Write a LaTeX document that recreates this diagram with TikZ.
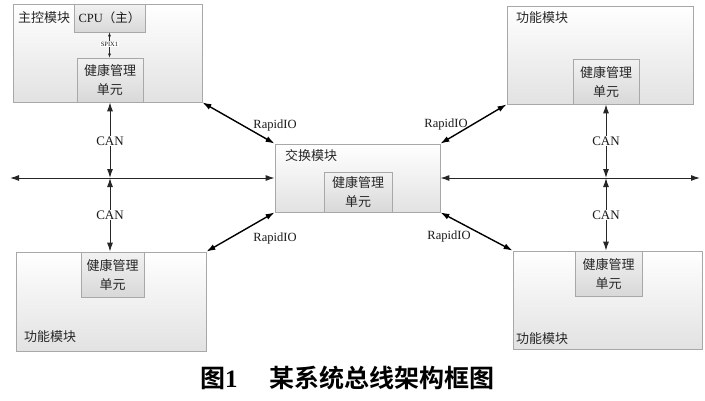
\documentclass[tikz,border=0pt]{standalone}
\usepackage{fontspec}
\setmainfont{Liberation Serif}
\newfontfamily\cjk{Noto Sans CJK SC}
\newfontfamily\cjkb{Noto Sans CJK SC}[BoldFont={* Bold}]
\usetikzlibrary{arrows.meta,shadows}
\definecolor{bordergray}{HTML}{A8A8A8}
\definecolor{modbot}{HTML}{E2E2E2}
\definecolor{hmtop}{HTML}{F2F2F2}
\definecolor{hmbot}{HTML}{D8D8D8}
\tikzset{
  module/.style={draw=bordergray, line width=0.8pt, top color=white, bottom color=modbot, inner sep=0pt,
    drop shadow={shadow xshift=1pt, shadow yshift=-1pt, opacity=0.25}},
  hmbox/.style={draw=bordergray, line width=0.8pt, top color=hmtop, bottom color=hmbot, inner sep=0pt,
    drop shadow={shadow xshift=1pt, shadow yshift=-1pt, opacity=0.3}},
  hmtext/.style={font=\cjk\fontsize{13}{19}\selectfont, align=center, text=black!85},
  modlabel/.style={font=\cjk\fontsize{13}{15}\selectfont, anchor=west, inner sep=0pt, text=black!85},
  lab/.style={font=\fontsize{13}{15}\selectfont, fill=white, inner sep=1pt, text=black!90},
  riolab/.style={font=\fontsize{12.5}{15}\selectfont, inner sep=1pt, text=black!90},
  tip/.style={{Latex[length=9pt,width=6pt]}-{Latex[length=9pt,width=6pt]}},
  bus/.style={tip, draw=black!85, line width=1pt},
  rio/.style={tip, draw=black, line width=1.4pt},
  small/.style={{Latex[length=4pt,width=3pt]}-{Latex[length=4pt,width=3pt]}, draw=black!85, line width=0.6pt},
}
\begin{document}
\begin{tikzpicture}[x=1pt,y=-1pt]
\useasboundingbox[fill=white] (0,0) rectangle (705,400);

% modules
\node[module, minimum width=189pt, minimum height=98pt] (TL) at (107.5,53) {};
\node[module, minimum width=186pt, minimum height=98pt] (TR) at (600,55) {};
\node[module, minimum width=165pt, minimum height=68pt] (C) at (357.5,178) {};
\node[module, minimum width=190pt, minimum height=99pt] (BL) at (111,301.5) {};
\node[module, minimum width=189pt, minimum height=98pt] (BR) at (607.5,300) {};

% CPU box
\node[hmbox, minimum width=71pt, minimum height=28pt] (CPU) at (109.5,18) {};
\node[font=\fontsize{12.5}{15}\selectfont, text=black!90] (CPUt) at (CPU.center) {CPU{\cjk（主）}};

% health boxes
\node[hmbox, minimum width=66pt, minimum height=44pt] (TLh) at (110,80) {};
\node[hmtext] (TLht) at (TLh.center) {健康管理\\单元};
\node[hmbox, minimum width=66pt, minimum height=45pt] (TRh) at (606,81.5) {};
\node[hmtext] (TRht) at (TRh.center) {健康管理\\单元};
\node[hmbox, minimum width=68pt, minimum height=40pt] (Ch) at (358,192) {};
\node[hmtext] (Cht) at (Ch.center) {健康管理\\单元};
\node[hmbox, minimum width=63pt, minimum height=45pt] (BLh) at (112.5,274.5) {};
\node[hmtext] (BLht) at (BLh.center) {健康管理\\单元};
\node[hmbox, minimum width=67pt, minimum height=45pt] (BRh) at (608.5,273.5) {};
\node[hmtext] (BRht) at (BRh.center) {健康管理\\单元};

% module labels
\node[modlabel] (TLl) at (18,18) {主控模块};
\node[modlabel] (TRl) at (516,18) {功能模块};
\node[modlabel] (Cl) at (285,156) {交换模块};
\node[modlabel] (BLl) at (24,337) {功能模块};
\node[modlabel] (BRl) at (516,339) {功能模块};

% SPI
\draw[small] (CPU.south) -- (CPU.south |- TLh.north);
\node[font=\fontsize{6.5}{8}\selectfont, fill=white, inner sep=0.5pt, text=black!90] (spi) at (109.5,44) {SPIX1};

% bus
\coordinate (LE) at (10,178);
\coordinate (RE) at (700,178);
\coordinate (JL) at (110,178);
\coordinate (JR) at (606,178);
\draw[bus] (LE) -- (C.west);
\draw[bus] (C.east) -- (RE);

% CAN
\draw[bus] (TLh.south) -- (JL);
\node[lab] (can1) at (110,141) {CAN};
\draw[bus] (JL) -- (JL |- BLh.north);
\node[lab] (can2) at (110,215) {CAN};
\draw[bus] (TRh.south) -- (JR);
\node[lab] (can3) at (606,141) {CAN};
\draw[bus] (JR) -- (JR |- BRh.north);
\node[lab] (can4) at (606,215) {CAN};

% RapidIO
\draw[rio] (TL.south east) -- (C.north west);
\draw[rio] (TR.south west) -- (C.north east);
\draw[rio] (C.south west) -- (BL.north east);
\draw[rio] (C.south east) -- (BR.north west);
\node[riolab] (r1) at (275,125) {RapidIO};
\node[riolab] (r2) at (446,124) {RapidIO};
\node[riolab] (r3) at (275,238) {RapidIO};
\node[riolab] (r4) at (449,236) {RapidIO};

% caption
\node[font=\cjkb\bfseries\fontsize{25}{28}\selectfont, anchor=west, inner sep=0pt] (cap1) at (200,378) {图{\rmfamily\bfseries 1}};
\node[font=\cjkb\bfseries\fontsize{25}{28}\selectfont, anchor=west, inner sep=0pt] (cap2) at (269,378) {某系统总线架构框图};
\end{tikzpicture}
\end{document}
